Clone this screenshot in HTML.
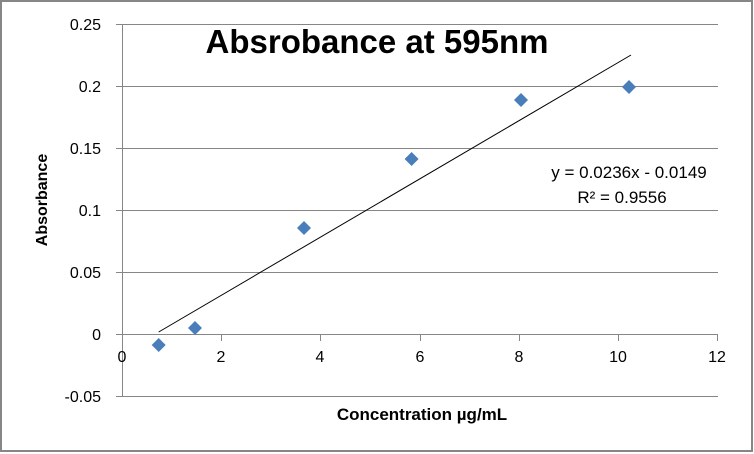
<!DOCTYPE html>
<html><head><style>
body{margin:0;background:#fff;}
svg{display:block;font-family:"Liberation Sans",sans-serif;}
</style></head><body>
<svg width="754" height="454" viewBox="0 0 754 454">
<rect x="1" y="1" width="751" height="450" fill="#fff" stroke="#868686" stroke-width="2"/>
<g stroke="#868686" stroke-width="1">
<line x1="116" y1="24.5" x2="718" y2="24.5"/>
<line x1="116" y1="86.5" x2="718" y2="86.5"/>
<line x1="116" y1="148.5" x2="718" y2="148.5"/>
<line x1="116" y1="210.5" x2="718" y2="210.5"/>
<line x1="116" y1="272.5" x2="718" y2="272.5"/>
<line x1="116" y1="334.5" x2="718" y2="334.5"/>
<line x1="116" y1="396.5" x2="718" y2="396.5"/>
<line x1="122.5" y1="24" x2="122.5" y2="397"/>
<line x1="221.5" y1="334" x2="221.5" y2="341"/>
<line x1="320.5" y1="334" x2="320.5" y2="341"/>
<line x1="420.5" y1="334" x2="420.5" y2="341"/>
<line x1="519.5" y1="334" x2="519.5" y2="341"/>
<line x1="618.5" y1="334" x2="618.5" y2="341"/>
<line x1="717.5" y1="334" x2="717.5" y2="341"/>
</g>
<g font-size="16" fill="#000" text-anchor="end">
<text x="101" y="30">0.25</text>
<text x="101" y="92">0.2</text>
<text x="101" y="154">0.15</text>
<text x="101" y="216">0.1</text>
<text x="101" y="278">0.05</text>
<text x="101" y="340">0</text>
<text x="101" y="402">-0.05</text>
</g>
<g font-size="16" fill="#000" text-anchor="middle">
<text x="122" y="362">0</text>
<text x="221" y="362">2</text>
<text x="320" y="362">4</text>
<text x="420" y="362">6</text>
<text x="519" y="362">8</text>
<text x="618" y="362">10</text>
<text x="717" y="362">12</text>
</g>
<text x="377" y="53" font-size="33" font-weight="bold" text-anchor="middle">Absrobance at 595nm</text>
<text x="422" y="420" font-size="17" font-weight="bold" text-anchor="middle">Concentration µg/mL</text>
<text transform="translate(47,200) rotate(-90)" font-size="16" font-weight="bold" text-anchor="middle">Absorbance</text>
<text x="629" y="178" font-size="17" text-anchor="middle">y = 0.0236x - 0.0149</text>
<text x="622" y="203" font-size="17" text-anchor="middle">R² = 0.9556</text>
<line x1="158.7" y1="332" x2="631" y2="55" stroke="#000" stroke-width="1"/>
<g fill="#4a7ebb">
<path d="M158.7 338 l7 7 l-7 7 l-7 -7z"/>
<path d="M195 321 l7 7 l-7 7 l-7 -7z"/>
<path d="M304 221 l7 7 l-7 7 l-7 -7z"/>
<path d="M411.6 152 l7 7 l-7 7 l-7 -7z"/>
<path d="M521 93 l7 7 l-7 7 l-7 -7z"/>
<path d="M629 80 l7 7 l-7 7 l-7 -7z"/>
</g>
</svg>
</body></html>
